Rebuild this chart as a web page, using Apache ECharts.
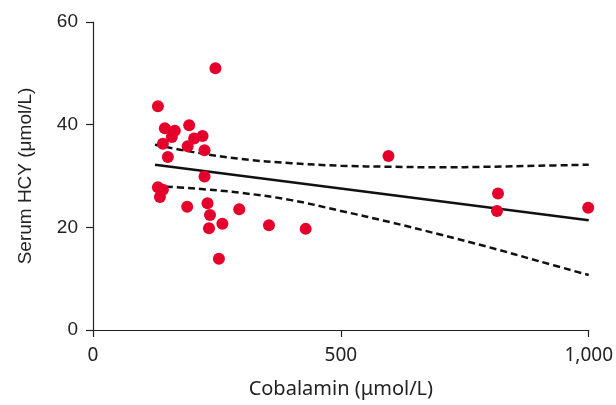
<!DOCTYPE html>
<html>
<head>
<meta charset="utf-8">
<script src="https://cdn.jsdelivr.net/npm/echarts@6/dist/echarts.min.js"></script>
<style>html,body{margin:0;padding:0;background:#fff}#c{width:616px;height:405px}</style>
</head>
<body>
<div id="c"></div>
<script>
// Scatter data: [cobalamin, serum HCY]
var cobalamin = [247, 131, 145, 165, 194, 159, 204, 221, 141, 191, 225, 151, 225, 131, 141, 135, 190, 231, 295, 236, 261, 234, 355, 429, 254, 596, 817, 815, 999];
var hcy       = [51.0, 43.6, 39.3, 38.8, 39.9, 37.6, 37.3, 37.8, 36.3, 35.8, 35.0, 33.7, 29.9, 27.8, 27.3, 25.9, 24.0, 24.7, 23.5, 22.4, 20.7, 19.8, 20.4, 19.7, 13.9, 33.9, 26.6, 23.2, 23.8];
// Regression line end points
var fitX = [125, 1000];
var fitY = [32.2, 21.4];
// Confidence band curves
var ciX     = [125, 200, 300, 400, 500, 600, 700, 800, 900, 1000];
var ciUpper = [36.1, 34.7, 33.3, 32.5, 32.0, 31.8, 31.7, 31.8, 32.0, 32.2];
var ciLower = [28.0, 27.6, 26.7, 25.3, 23.2, 21.0, 18.6, 16.1, 13.4, 10.7];

function zip(a, b) { return a.map(function (v, i) { return [v, b[i]]; }); }

var chart = echarts.init(document.getElementById('c'));
chart.setOption({
  animation: false,
  grid: { left: 93, right: 23, top: 22, bottom: 75, containLabel: false },
  xAxis: {
    type: 'value', min: 0, max: 1000, interval: 500,
    name: 'Cobalamin (μmol/L)', nameLocation: 'middle', nameGap: 49,
    nameTextStyle: { fontFamily: 'Noto Sans', fontSize: 20, color: '#222' },
    axisLine: { show: true, onZero: false, lineStyle: { color: '#222', width: 1.2 } },
    axisTick: { show: true, inside: false, length: 7, lineStyle: { color: '#222', width: 1.2 } },
    axisLabel: { margin: 16, fontFamily: 'Noto Sans', fontSize: 19, color: '#222',
      formatter: function (v) { return v.toLocaleString('en-US'); } },
    splitLine: { show: false }
  },
  yAxis: {
    type: 'value', min: 0, max: 60, interval: 20,
    name: 'Serum HCY (μmol/L)', nameLocation: 'middle', nameGap: 58,
    nameTextStyle: { fontFamily: "'Liberation Sans', Arial, sans-serif", fontSize: 19, color: '#222' },
    axisLine: { show: true, onZero: false, lineStyle: { color: '#222', width: 1.2 } },
    axisTick: { show: true, inside: false, length: 7, lineStyle: { color: '#222', width: 1.2 } },
    axisLabel: { margin: 15, fontFamily: "'Liberation Sans', Arial, sans-serif", fontSize: 19, color: '#222' },
    splitLine: { show: false }
  },
  series: [
    {
      type: 'line', data: zip(ciX, ciUpper), smooth: 0.4, symbol: 'none', z: 2,
      lineStyle: { color: '#111', width: 2.5, type: [7, 4] }
    },
    {
      type: 'line', data: zip(ciX, ciLower), smooth: 0.4, symbol: 'none', z: 2,
      lineStyle: { color: '#111', width: 2.5, type: [7, 4] }
    },
    {
      type: 'line', data: zip(fitX, fitY), symbol: 'none', z: 2,
      lineStyle: { color: '#111', width: 2.5 }
    },
    {
      type: 'scatter', data: zip(cobalamin, hcy), symbol: 'circle', symbolSize: 12, z: 3,
      itemStyle: { color: '#E4002B', opacity: 1 }
    }
  ]
});
</script>
</body>
</html>
